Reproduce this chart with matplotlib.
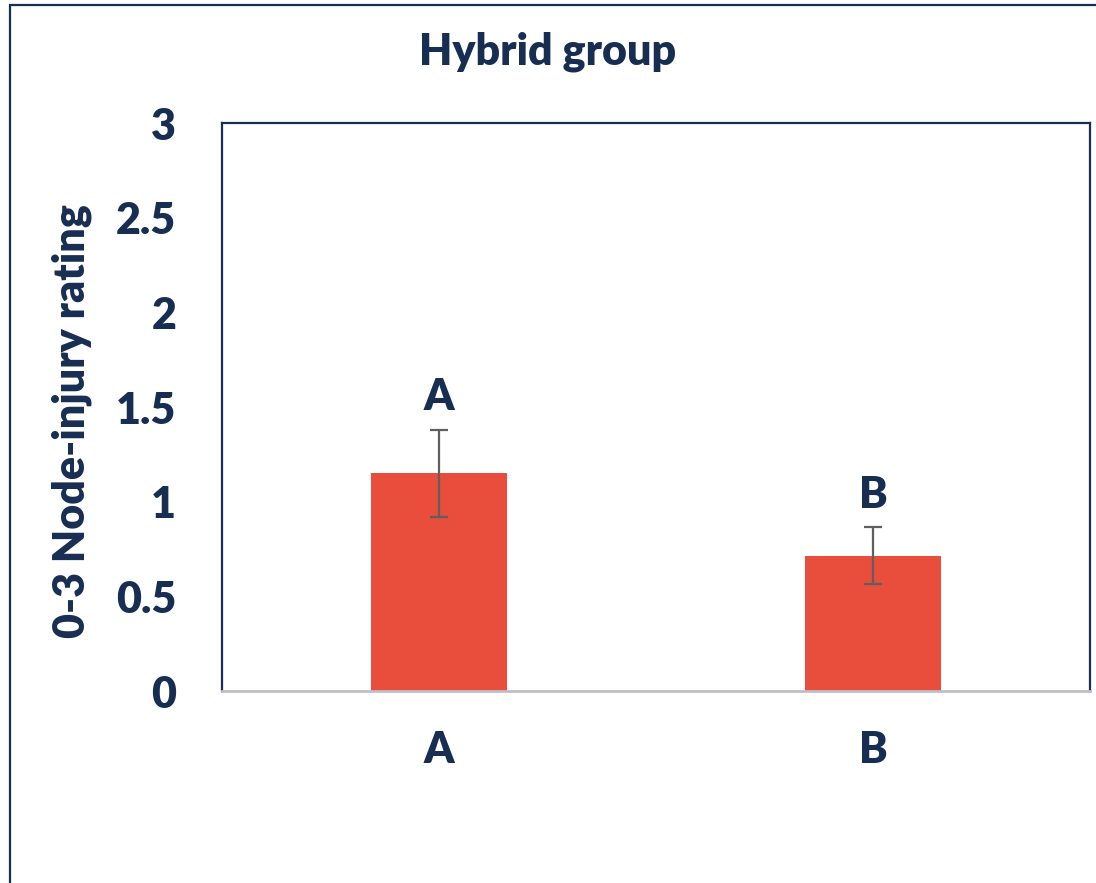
import matplotlib
matplotlib.use("Agg")
import matplotlib.pyplot as plt
from matplotlib.patches import Rectangle

# Data
categories = ["A", "B"]
means = [1.15, 0.715]
errors = [0.23, 0.15]
group_letters = ["A", "B"]
y_ticks = [0, 0.5, 1, 1.5, 2, 2.5, 3]
y_tick_labels = ["0", "0.5", "1", "1.5", "2", "2.5", "3"]

navy = "#172D52"
bar_color = "#E84E3B"
err_color = "#5F5F5F"
FS = 31
WEIGHT = "heavy"

plt.rcParams["font.family"] = ["Lato", "DejaVu Sans"]

W, H = 1096, 883
fig = plt.figure(figsize=(W / 100, H / 100), dpi=100)
fig.patch.set_facecolor("white")

# outer frame of the chart area
fig.add_artist(Rectangle((10 / W, -0.1), 1.2, 1 - 4.5 / H + 0.1,
                         transform=fig.transFigure, fill=False,
                         edgecolor=navy, linewidth=1.6))

ax = fig.add_axes([222 / W, 1 - 691 / H, (1090 - 222) / W, (691 - 123) / H])
x = list(range(len(categories)))
ax.bar(x, means, width=0.313, color=bar_color, zorder=2)
ax.errorbar(x, means, yerr=errors, fmt="none", ecolor=err_color,
            elinewidth=1.6, capsize=6.5, capthick=1.6, zorder=3)

for xi, m, e, lab in zip(x, means, errors, group_letters):
    ax.annotate(lab, (xi, m + e), xytext=(0, 9), textcoords="offset points",
                ha="center", va="bottom", fontsize=FS, fontweight=WEIGHT,
                color=navy)

ax.set_xlim(-0.5, 1.5)
ax.set_ylim(0, 3)
ax.set_yticks(y_ticks)
ax.set_yticklabels(y_tick_labels)
ax.set_xticks(x)
ax.set_xticklabels(categories)
ax.tick_params(axis="both", length=0, labelsize=FS, labelcolor=navy)
ax.tick_params(axis="y", pad=33)
ax.tick_params(axis="x", pad=28)
for lbl in ax.get_xticklabels() + ax.get_yticklabels():
    lbl.set_fontweight(WEIGHT)

for side in ["left", "top", "right"]:
    ax.spines[side].set_color(navy)
    ax.spines[side].set_linewidth(1.6)
ax.spines["bottom"].set_color("#BEBEC4")
ax.spines["bottom"].set_linewidth(2)

fig.text(0.5, 1 - 52 / H, "Hybrid group", ha="center", va="center",
         fontsize=FS, fontweight=WEIGHT, color=navy)
fig.text(72 / W, 1 - 421 / H, "0-3 Node-injury rating", rotation=90,
         ha="center", va="center", fontsize=FS, fontweight=WEIGHT, color=navy)

fig.savefig("out.png", dpi=100, facecolor="white")
